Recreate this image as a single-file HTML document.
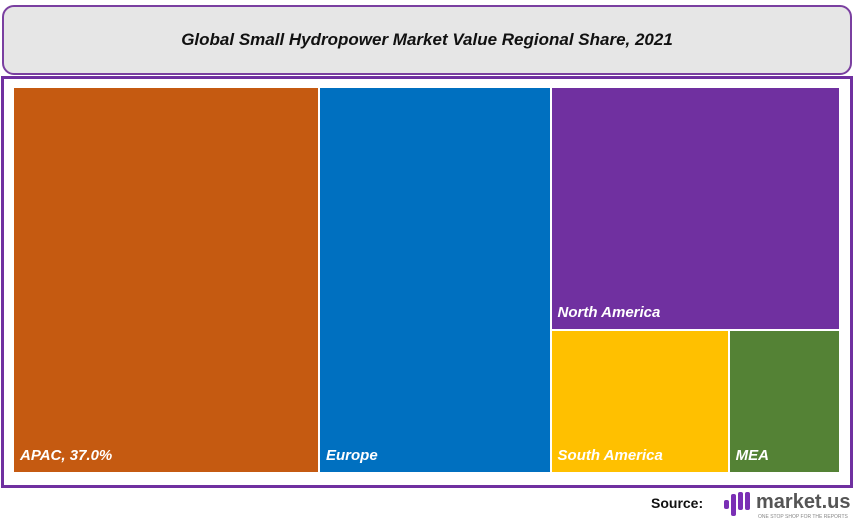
<!DOCTYPE html>
<html><head><meta charset="utf-8">
<style>
body{margin:0;width:854px;height:525px;background:#fff;font-family:"Liberation Sans",sans-serif;overflow:hidden;position:relative}
#title{position:absolute;left:2px;top:5px;width:846px;height:66px;background:#e6e6e6;border:2px solid #7a3fa0;border-radius:12px;box-sizing:content-box;display:flex;align-items:center;justify-content:center;font-style:italic;font-weight:bold;font-size:17px;color:#111}
#frame{position:absolute;left:1px;top:76px;width:846px;height:406px;border:3px solid #7030a0}
.lbl{position:absolute;color:#fff;font-weight:bold;font-style:italic;font-size:15px}
#src{position:absolute;left:651px;top:495px;font-weight:bold;font-size:14px;color:#111}
#logo{position:absolute;left:720px;top:488px}
</style></head><body>
<div id="title">Global Small Hydropower Market Value Regional Share, 2021</div>
<div id="frame"></div>
<div id="tm"></div>
<div id="src">Source:</div>
<div id="logo">
<svg width="134" height="36"><g fill="#7a2fb5"><rect x="4" y="12" width="5" height="9" rx="2"/><rect x="11" y="6" width="5" height="22" rx="2"/><rect x="18" y="4" width="5" height="18" rx="2"/><rect x="25" y="4" width="5" height="18" rx="2"/></g>
<text x="36" y="20" font-family="Liberation Sans" font-weight="bold" font-size="20" fill="#555">market.us</text>
<text x="38" y="30" font-family="Liberation Sans" font-size="5" fill="#888">ONE STOP SHOP FOR THE REPORTS</text></svg></div>
<script>
const regions=["APAC","Europe","North America","South America","MEA"];
const shares=[37.0,28.0,22.0,8.0,5.0];
const colors=["#c55a11","#0070c0","#7030a0","#ffc000","#548235"];
const X0=14,Y0=88,W=827,H=386,G=2;
const tm=document.getElementById('tm');
function box(i,x,y,w,h){
 const d=document.createElement('div');
 
 
 d.style.cssText=`position:absolute;left:${x}px;top:${y}px;width:${w-G}px;height:${h-G}px;background:${colors[i]}`;
 tm.appendChild(d);
 const l=document.createElement('div');
 
 
 l.className='lbl';
 l.textContent=i==0?regions[i]+', '+shares[i].toFixed(1)+'%':regions[i];
 l.style.left=(x+6)+'px';l.style.top=(y+h-G-25)+'px';
 tm.appendChild(l);
}
const tot=shares.reduce((a,b)=>a+b,0);
let x=X0;
const w0=W*shares[0]/tot;box(0,x,Y0,w0,H);x+=w0;
const w1=W*shares[1]/tot;box(1,x,Y0,w1,H);x+=w1;
const rest=shares[2]+shares[3]+shares[4];
const wr=W*rest/tot;
const h2=H*shares[2]/rest;box(2,x,Y0,wr,h2);
const br=shares[3]+shares[4];
const w3=wr*shares[3]/br;box(3,x,Y0+h2,w3,H-h2);
box(4,x+w3,Y0+h2,wr-w3,H-h2);
</script>
</body></html>
